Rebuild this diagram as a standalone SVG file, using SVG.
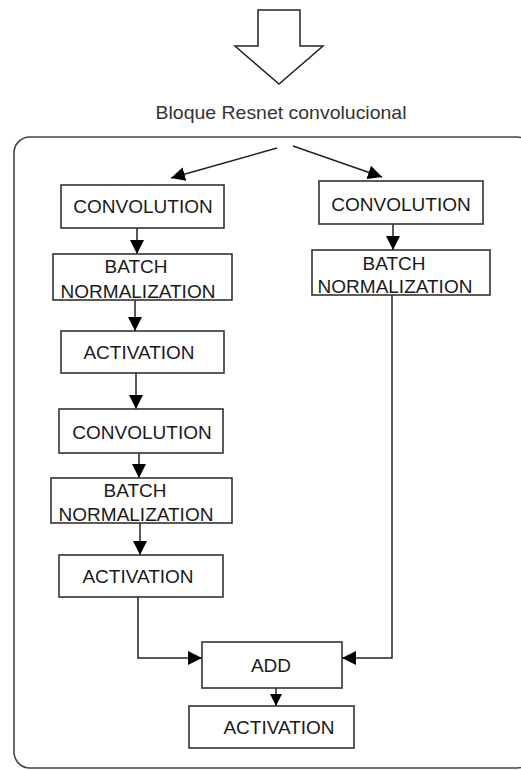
<svg xmlns="http://www.w3.org/2000/svg" width="521" height="770" viewBox="0 0 521 770">
<style>
.box{fill:#fff;stroke:#333;stroke-width:1.6}
.lbl{font-family:"Liberation Sans",Arial,sans-serif;font-size:19px;fill:#1a1a1a;text-anchor:middle}
.title{font-family:"Liberation Sans",Arial,sans-serif;font-size:19px;fill:#333;text-anchor:middle}
.wire{fill:none;stroke:#222;stroke-width:1.5}
</style>
<defs>
<marker id="ah" markerUnits="userSpaceOnUse" markerWidth="14" markerHeight="14" refX="14" refY="7" orient="auto">
<path d="M0,0 L14,7 L0,14 z" fill="#000"/>
</marker>
<marker id="ahs" markerUnits="userSpaceOnUse" markerWidth="12" markerHeight="12" refX="12" refY="6" orient="auto">
<path d="M0,0 L12,6 L0,12 z" fill="#000"/>
</marker>
</defs>
<rect width="521" height="770" fill="#fff"/>
<g id="input-arrow">
<polygon points="258,10 300,10 300,46 323,46 279,84 235,46 258,46" fill="#fff" stroke="#222" stroke-width="1.5" stroke-linejoin="miter"/>
</g>
<g id="title">
<text class="title" x="281" y="119" textLength="251" lengthAdjust="spacingAndGlyphs">Bloque Resnet convolucional</text>
</g>
<g id="container">
<rect x="14" y="137" width="519" height="631" rx="16" ry="16" fill="none" stroke="#444" stroke-width="1.6"/>
</g>
<g id="connectors">
<line class="wire" x1="277" y1="148" x2="171" y2="178" marker-end="url(#ah)"/>
<line class="wire" x1="293" y1="146" x2="382" y2="177" marker-end="url(#ah)"/>
<line class="wire" x1="137" y1="228" x2="137" y2="254" marker-end="url(#ah)"/>
<line class="wire" x1="393" y1="224" x2="393" y2="250" marker-end="url(#ah)"/>
<line class="wire" x1="135" y1="300" x2="135" y2="331" marker-end="url(#ah)"/>
<line class="wire" x1="136" y1="373" x2="136" y2="409" marker-end="url(#ah)"/>
<line class="wire" x1="139" y1="453" x2="139" y2="478" marker-end="url(#ah)"/>
<line class="wire" x1="140" y1="523" x2="140" y2="555" marker-end="url(#ah)"/>
<polyline class="wire" points="138,597 138,658 202,658" marker-end="url(#ah)"/>
<polyline class="wire" points="392,295 392,658 342,658" marker-end="url(#ah)"/>
<line class="wire" x1="276" y1="688" x2="276" y2="706" marker-end="url(#ahs)"/>
</g>
<g id="conv1">
<rect class="box" x="61" y="185" width="163" height="43"/>
<text class="lbl" x="143" y="213">CONVOLUTION</text>
</g>
<g id="bn1">
<rect class="box" x="53" y="254" width="179" height="46"/>
<text class="lbl" x="136" y="273">BATCH</text>
<text class="lbl" x="138" y="298">NORMALIZATION</text>
</g>
<g id="act1">
<rect class="box" x="61" y="331" width="163" height="42"/>
<text class="lbl" x="139" y="359">ACTIVATION</text>
</g>
<g id="conv2">
<rect class="box" x="59" y="409" width="164" height="44"/>
<text class="lbl" x="142" y="439">CONVOLUTION</text>
</g>
<g id="bn2">
<rect class="box" x="51" y="478" width="181" height="45"/>
<text class="lbl" x="135" y="497">BATCH</text>
<text class="lbl" x="136" y="521">NORMALIZATION</text>
</g>
<g id="act2">
<rect class="box" x="59" y="555" width="164" height="42"/>
<text class="lbl" x="138" y="583">ACTIVATION</text>
</g>
<g id="conv-short">
<rect class="box" x="319" y="181" width="164" height="43"/>
<text class="lbl" x="401" y="211">CONVOLUTION</text>
</g>
<g id="bn-short">
<rect class="box" x="312" y="250" width="178" height="45"/>
<text class="lbl" x="394" y="270">BATCH</text>
<text class="lbl" x="395" y="293">NORMALIZATION</text>
</g>
<g id="add">
<rect class="box" x="202" y="642" width="140" height="46"/>
<text class="lbl" x="271" y="672">ADD</text>
</g>
<g id="act3">
<rect class="box" x="189" y="706" width="165" height="42"/>
<text class="lbl" x="279" y="734">ACTIVATION</text>
</g>
</svg>
